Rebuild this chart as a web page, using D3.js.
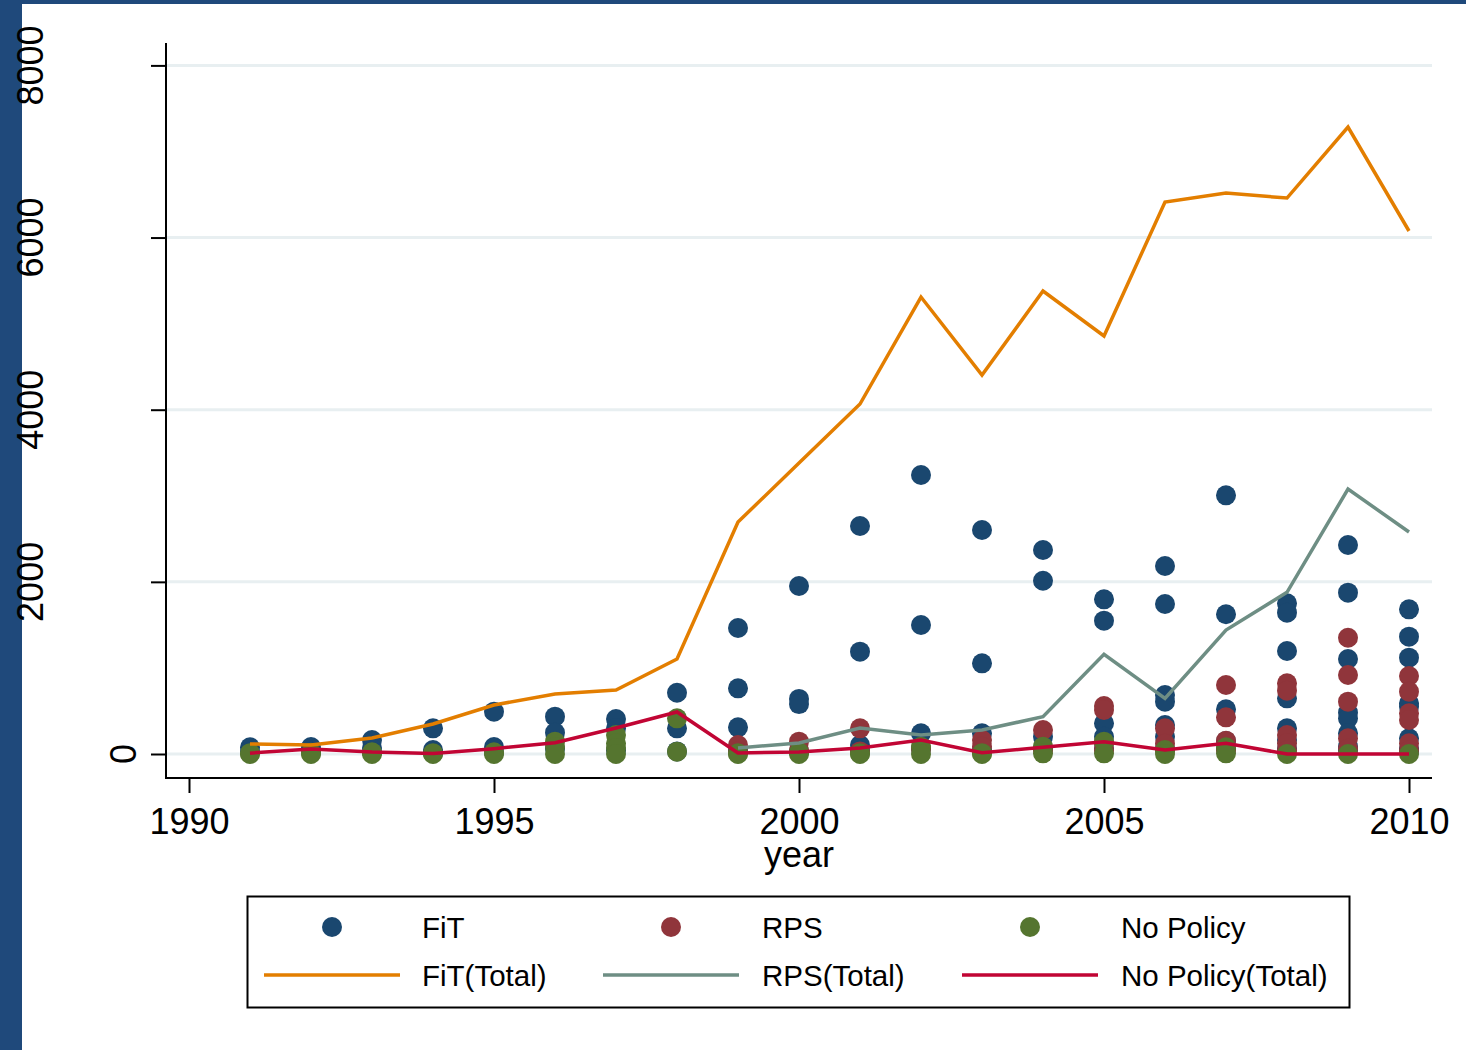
<!DOCTYPE html>
<html>
<head>
<meta charset="utf-8">
<script src="https://cdn.jsdelivr.net/npm/d3@7"></script>
<style>
  html, body { margin: 0; padding: 0; background: #ffffff; }
  svg { display: block; }
  text { font-family: "Liberation Sans", Arial, Helvetica, sans-serif; fill: #000; }
</style>
</head>
<body>
<script>
// ---------------- DATA ----------------
const years = [1991,1992,1993,1994,1995,1996,1997,1998,1999,2000,2001,2002,2003,2004,2005,2006,2007,2008,2009,2010];

const fitTotal      = [116,105,186,349,569,697,743,1104,2695,3380,4066,5309,4403,5379,4856,6413,6517,6459,7284,6076];
const rpsYears      = [1999,2000,2001,2002,2003,2004,2005,2006,2007,2008,2009,2010];
const rpsTotal      = [70,128,302,221,279,433,1158,647,1440,1878,3078,2579];
const noPolicyTotal = [10,58,23,5,62,131,302,488,12,23,70,163,15,78,143,46,124,0,0,0];

// individual observations, one list per year (same order as `years`)
const fitDots = [
  [78,30],
  [80,25],
  [163,70,20],
  [298,46,15],
  [492,80,20],
  [434,248,60],
  [406,298,40],
  [712,298,30],
  [1464,763,310,40],
  [1952,640,580,30],
  [2649,1189,105,40],
  [3241,1499,240,60],
  [2602,1053,240,50],
  [2370,2013,201,60],
  [1797,1549,356,201,60],
  [2184,1743,685,608,337,201,60],
  [3005,1623,519,150,60],
  [1750,1642,1197,647,298,163,60],
  [2428,1874,1104,480,414,240,85,40],
  [1681,1363,1119,589,550,182,66,30]
];
const rpsDots = [
  [],[],[],[],[],[],[],[],
  [105,30],
  [143,40],
  [298,30],
  [60],
  [163,85],
  [279,40],
  [558,511,120,40],
  [298,120,40],
  [802,426,155,40],
  [821,736,221,124,40],
  [1351,918,608,182,60],
  [906,724,473,395,124,40]
];
const noPolicyDots = [
  [0,10],
  [0,15],
  [0,20],
  [0,10],
  [0,20],
  [143,80,0],
  [221,124,70,0],
  [414,27],
  [8,0],
  [0,20],
  [0,10],
  [85,0],
  [0,10],
  [85,8],
  [143,8],
  [46,0],
  [78,8],
  [0],
  [0],
  [0]
];

const xTicks = [1990,1995,2000,2005,2010];
const yTicks = [0,2000,4000,6000,8000];

const legendItems = [
  {label: "FiT",              type: "dot",  key: "fit"},
  {label: "RPS",              type: "dot",  key: "rps"},
  {label: "No Policy",        type: "dot",  key: "np"},
  {label: "FiT(Total)",       type: "line", key: "fitT"},
  {label: "RPS(Total)",       type: "line", key: "rpsT"},
  {label: "No Policy(Total)", type: "line", key: "npT"}
];

// ---------------- STYLE ----------------
const colors = {
  fit: "#1a476f", rps: "#90353b", np: "#55752f",
  fitT: "#e37e00", rpsT: "#6e8e84", npT: "#c10534"
};
const W = 1466, H = 1050;
const plot = {left: 166, right: 1432, top: 43, bottom: 778};
const dotR = 10;
const fs = 36;

const svg = d3.select("body").append("svg").attr("width", W).attr("height", H);

svg.append("rect").attr("x", 0).attr("y", 0).attr("width", W).attr("height", H).attr("fill", "#fff");
// frame bands
svg.append("rect").attr("x", 0).attr("y", 0).attr("width", W).attr("height", 4).attr("fill", "#1f497b");
svg.append("rect").attr("x", 0).attr("y", 0).attr("width", 22).attr("height", H).attr("fill", "#1f497b");

const x = d3.scaleLinear().domain([1990, 2010]).range([189, 1409]);
const y = d3.scaleLinear().domain([0, 8000]).range([754, 65.4]);

// gridlines
svg.append("g").selectAll("line").data(yTicks).join("line")
  .attr("x1", plot.left).attr("x2", plot.right)
  .attr("y1", d => y(d)).attr("y2", d => y(d))
  .attr("stroke", "#e8eff1").attr("stroke-width", 3);

// axes (ticks via d3-axis)
const xAxis = svg.append("g").attr("transform", `translate(0,${plot.bottom})`)
  .call(d3.axisBottom(x).tickValues(xTicks).tickSize(15).tickPadding(15).tickFormat(d3.format("d")));
xAxis.select(".domain").remove();
xAxis.selectAll("line").attr("stroke", "#000").attr("stroke-width", 2);
xAxis.selectAll("text").attr("font-size", fs).attr("font-family", "Liberation Sans, Arial, sans-serif").attr("fill", "#000");

const yAxis = svg.append("g").attr("transform", `translate(${plot.left},0)`)
  .call(d3.axisLeft(y).tickValues(yTicks).tickSize(15).tickFormat(""));
yAxis.select(".domain").remove();
yAxis.selectAll("line").attr("stroke", "#000").attr("stroke-width", 2);

// rotated y labels
svg.append("g").selectAll("text").data(yTicks).join("text")
  .attr("transform", d => {
    const len = String(d).length;
    const bx = 136 - (len - 1) * 31;
    return `translate(${bx},${y(d)}) rotate(-90)`;
  })
  .attr("text-anchor", "middle")
  .attr("font-size", fs)
  .text(d => d);

// axis lines
svg.append("line").attr("x1", plot.left).attr("x2", plot.left).attr("y1", plot.top).attr("y2", plot.bottom + 1)
  .attr("stroke", "#000").attr("stroke-width", 2);
svg.append("line").attr("x1", plot.left - 1).attr("x2", plot.right).attr("y1", plot.bottom).attr("y2", plot.bottom)
  .attr("stroke", "#000").attr("stroke-width", 2);

// axis title
svg.append("text").attr("x", (plot.left + plot.right) / 2).attr("y", 867)
  .attr("text-anchor", "middle").attr("font-size", fs).text("year");

// dots
function flatten(dots) {
  const out = [];
  dots.forEach((vals, i) => vals.forEach(v => out.push({year: years[i], v})));
  return out;
}
[["fit", fitDots], ["rps", rpsDots], ["np", noPolicyDots]].forEach(([k, dots]) => {
  svg.append("g").selectAll("circle").data(flatten(dots)).join("circle")
    .attr("cx", d => x(d.year)).attr("cy", d => y(d.v)).attr("r", dotR)
    .attr("fill", colors[k]);
});

// lines
const line = d3.line().x(d => x(d[0])).y(d => y(d[1]));
[
  ["fitT", years.map((yr, i) => [yr, fitTotal[i]])],
  ["rpsT", rpsYears.map((yr, i) => [yr, rpsTotal[i]])],
  ["npT",  years.map((yr, i) => [yr, noPolicyTotal[i]])]
].forEach(([k, pts]) => {
  svg.append("path").datum(pts).attr("d", line)
    .attr("fill", "none").attr("stroke", colors[k]).attr("stroke-width", 3.5)
    .attr("stroke-linejoin", "miter");
});

// legend
const lg = svg.append("g");
lg.append("rect").attr("x", 247.5).attr("y", 896.5).attr("width", 1102).attr("height", 111)
  .attr("fill", "#fff").attr("stroke", "#000").attr("stroke-width", 2);
const colX = [332, 671, 1030];   // symbol centres
const textX = [422, 762, 1121];
const rowY = [927, 975];
legendItems.forEach((it, i) => {
  const c = i % 3, r = Math.floor(i / 3);
  if (it.type === "dot") {
    lg.append("circle").attr("cx", colX[c]).attr("cy", rowY[r]).attr("r", dotR).attr("fill", colors[it.key]);
  } else {
    lg.append("line").attr("x1", colX[c] - 68).attr("x2", colX[c] + 68)
      .attr("y1", rowY[r]).attr("y2", rowY[r])
      .attr("stroke", colors[it.key]).attr("stroke-width", 3.5);
  }
  lg.append("text").attr("x", textX[c]).attr("y", rowY[r] + 11)
    .attr("font-size", 29.5).text(it.label);
});
</script>
</body>
</html>
